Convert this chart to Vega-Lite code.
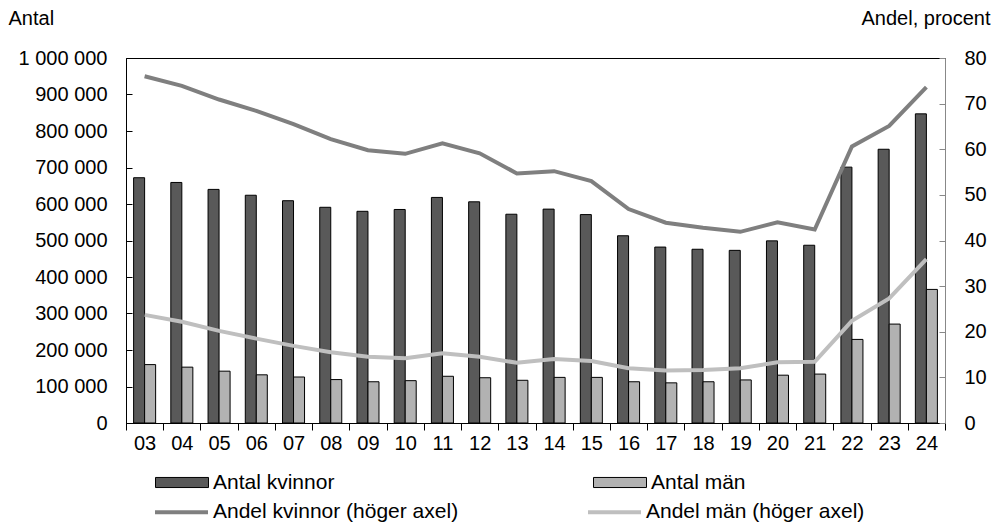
{
  "$schema": "https://vega.github.io/schema/vega-lite/v6.json",
  "width": 819,
  "height": 365,
  "autosize": {"type": "none"},
  "padding": {"left": 126, "top": 58, "right": 50, "bottom": 101},
  "background": "white",
  "config": {
    "font": "Liberation Sans",
    "view": {"stroke": "black", "strokeWidth": 1},
    "locale": {"number": {"decimal": ",", "thousands": " ", "grouping": [3], "currency": ["", " kr"]}},
    "axis": {"grid": false, "labelFont": "Liberation Sans", "labelFontSize": 20, "labelColor": "black", "titleFont": "Liberation Sans", "titleFontSize": 20, "titleFontWeight": "normal", "titleColor": "black"},
    "legend": {"labelFont": "Liberation Sans", "labelFontSize": 21, "labelColor": "black", "padding": 0, "labelLimit": 400}
  },
  "datasets": {
    "antal": [
      {"year": "03", "serie": "Antal kvinnor", "value": 672000},
      {"year": "04", "serie": "Antal kvinnor", "value": 659000},
      {"year": "05", "serie": "Antal kvinnor", "value": 640000},
      {"year": "06", "serie": "Antal kvinnor", "value": 624000},
      {"year": "07", "serie": "Antal kvinnor", "value": 609000},
      {"year": "08", "serie": "Antal kvinnor", "value": 591000},
      {"year": "09", "serie": "Antal kvinnor", "value": 580000},
      {"year": "10", "serie": "Antal kvinnor", "value": 585000},
      {"year": "11", "serie": "Antal kvinnor", "value": 618000},
      {"year": "12", "serie": "Antal kvinnor", "value": 606000},
      {"year": "13", "serie": "Antal kvinnor", "value": 572000},
      {"year": "14", "serie": "Antal kvinnor", "value": 586000},
      {"year": "15", "serie": "Antal kvinnor", "value": 571000},
      {"year": "16", "serie": "Antal kvinnor", "value": 513000},
      {"year": "17", "serie": "Antal kvinnor", "value": 482000},
      {"year": "18", "serie": "Antal kvinnor", "value": 476000},
      {"year": "19", "serie": "Antal kvinnor", "value": 473000},
      {"year": "20", "serie": "Antal kvinnor", "value": 499000},
      {"year": "21", "serie": "Antal kvinnor", "value": 487000},
      {"year": "22", "serie": "Antal kvinnor", "value": 701000},
      {"year": "23", "serie": "Antal kvinnor", "value": 750000},
      {"year": "24", "serie": "Antal kvinnor", "value": 847000},
      {"year": "03", "serie": "Antal män", "value": 160000},
      {"year": "04", "serie": "Antal män", "value": 153000},
      {"year": "05", "serie": "Antal män", "value": 142000},
      {"year": "06", "serie": "Antal män", "value": 132000},
      {"year": "07", "serie": "Antal män", "value": 126000},
      {"year": "08", "serie": "Antal män", "value": 119000},
      {"year": "09", "serie": "Antal män", "value": 113000},
      {"year": "10", "serie": "Antal män", "value": 116000},
      {"year": "11", "serie": "Antal män", "value": 128000},
      {"year": "12", "serie": "Antal män", "value": 124000},
      {"year": "13", "serie": "Antal män", "value": 117000},
      {"year": "14", "serie": "Antal män", "value": 125000},
      {"year": "15", "serie": "Antal män", "value": 125000},
      {"year": "16", "serie": "Antal män", "value": 113000},
      {"year": "17", "serie": "Antal män", "value": 110000},
      {"year": "18", "serie": "Antal män", "value": 113000},
      {"year": "19", "serie": "Antal män", "value": 118000},
      {"year": "20", "serie": "Antal män", "value": 131000},
      {"year": "21", "serie": "Antal män", "value": 134000},
      {"year": "22", "serie": "Antal män", "value": 229000},
      {"year": "23", "serie": "Antal män", "value": 271000},
      {"year": "24", "serie": "Antal män", "value": 366000}
    ],
    "andel": [
      {"year": "03", "serie": "Andel kvinnor (höger axel)", "value": 76.0},
      {"year": "04", "serie": "Andel kvinnor (höger axel)", "value": 73.9},
      {"year": "05", "serie": "Andel kvinnor (höger axel)", "value": 70.9},
      {"year": "06", "serie": "Andel kvinnor (höger axel)", "value": 68.4},
      {"year": "07", "serie": "Andel kvinnor (höger axel)", "value": 65.5},
      {"year": "08", "serie": "Andel kvinnor (höger axel)", "value": 62.2},
      {"year": "09", "serie": "Andel kvinnor (höger axel)", "value": 59.8},
      {"year": "10", "serie": "Andel kvinnor (höger axel)", "value": 59.0},
      {"year": "11", "serie": "Andel kvinnor (höger axel)", "value": 61.3},
      {"year": "12", "serie": "Andel kvinnor (höger axel)", "value": 59.1},
      {"year": "13", "serie": "Andel kvinnor (höger axel)", "value": 54.7},
      {"year": "14", "serie": "Andel kvinnor (höger axel)", "value": 55.2},
      {"year": "15", "serie": "Andel kvinnor (höger axel)", "value": 53.0},
      {"year": "16", "serie": "Andel kvinnor (höger axel)", "value": 46.9},
      {"year": "17", "serie": "Andel kvinnor (höger axel)", "value": 43.9},
      {"year": "18", "serie": "Andel kvinnor (höger axel)", "value": 42.8},
      {"year": "19", "serie": "Andel kvinnor (höger axel)", "value": 41.9},
      {"year": "20", "serie": "Andel kvinnor (höger axel)", "value": 44.0},
      {"year": "21", "serie": "Andel kvinnor (höger axel)", "value": 42.4},
      {"year": "22", "serie": "Andel kvinnor (höger axel)", "value": 60.6},
      {"year": "23", "serie": "Andel kvinnor (höger axel)", "value": 65.1},
      {"year": "24", "serie": "Andel kvinnor (höger axel)", "value": 73.6},
      {"year": "03", "serie": "Andel män (höger axel)", "value": 23.7},
      {"year": "04", "serie": "Andel män (höger axel)", "value": 22.2},
      {"year": "05", "serie": "Andel män (höger axel)", "value": 20.2},
      {"year": "06", "serie": "Andel män (höger axel)", "value": 18.5},
      {"year": "07", "serie": "Andel män (höger axel)", "value": 16.9},
      {"year": "08", "serie": "Andel män (höger axel)", "value": 15.5},
      {"year": "09", "serie": "Andel män (höger axel)", "value": 14.5},
      {"year": "10", "serie": "Andel män (höger axel)", "value": 14.2},
      {"year": "11", "serie": "Andel män (höger axel)", "value": 15.3},
      {"year": "12", "serie": "Andel män (höger axel)", "value": 14.5},
      {"year": "13", "serie": "Andel män (höger axel)", "value": 13.2},
      {"year": "14", "serie": "Andel män (höger axel)", "value": 14.0},
      {"year": "15", "serie": "Andel män (höger axel)", "value": 13.6},
      {"year": "16", "serie": "Andel män (höger axel)", "value": 12.0},
      {"year": "17", "serie": "Andel män (höger axel)", "value": 11.5},
      {"year": "18", "serie": "Andel män (höger axel)", "value": 11.6},
      {"year": "19", "serie": "Andel män (höger axel)", "value": 12.0},
      {"year": "20", "serie": "Andel män (höger axel)", "value": 13.3},
      {"year": "21", "serie": "Andel män (höger axel)", "value": 13.4},
      {"year": "22", "serie": "Andel män (höger axel)", "value": 22.4},
      {"year": "23", "serie": "Andel män (höger axel)", "value": 27.3},
      {"year": "24", "serie": "Andel män (höger axel)", "value": 35.9}
    ]
  },
  "layer": [
    {
      "data": {"name": "antal"},
      "mark": {"type": "bar", "stroke": "black", "strokeWidth": 1},
      "encoding": {
        "x": {
          "field": "year", "type": "ordinal",
          "scale": {"paddingInner": 0, "paddingOuter": 0},
          "axis": {"title": null, "labelAngle": 0, "tickBand": "extent", "tickSize": 7, "labelPadding": 3, "domainColor": "black", "tickColor": "black", "domainWidth": 1}
        },
        "xOffset": {
          "field": "serie",
          "scale": {"domain": ["Antal kvinnor", "Antal män"], "paddingInner": 0, "paddingOuter": 0.69}
        },
        "y": {
          "field": "value", "type": "quantitative",
          "scale": {"domain": [0, 1000000], "nice": false},
          "axis": {"orient": "left", "values": [0, 100000, 200000, 300000, 400000, 500000, 600000, 700000, 800000, 900000, 1000000], "format": ",d", "tickSize": -6, "labelPadding": 25, "domainColor": "black", "tickColor": "black", "title": "Antal", "titleAngle": 0, "titleX": -118, "titleY": -40, "titleAlign": "left", "titleBaseline": "middle"}
        },
        "fill": {
          "field": "serie", "type": "nominal",
          "scale": {"domain": ["Antal kvinnor", "Antal män"], "range": ["#595959", "#b2b2b2"]},
          "legend": {"title": null, "orient": "none", "legendX": 29, "legendY": 397.5, "columns": 2, "columnPadding": 256, "symbolType": "M-1,-0.19H1V0.19H-1Z", "symbolSize": 2809, "symbolStrokeColor": "black", "symbolStrokeWidth": 1, "labelOffset": 4}
        }
      }
    },
    {
      "data": {"name": "andel"},
      "mark": {"type": "line", "strokeWidth": 4},
      "encoding": {
        "x": {"field": "year", "type": "ordinal"},
        "y": {
          "field": "value", "type": "quantitative",
          "scale": {"domain": [0, 80], "nice": false},
          "axis": {"orient": "right", "values": [0, 10, 20, 30, 40, 50, 60, 70, 80], "tickSize": -6, "labelPadding": 25, "domainColor": "#888888", "tickColor": "#888888", "title": "Andel, procent", "titleAngle": 0, "titleX": 45, "titleY": -40, "titleAlign": "right", "titleBaseline": "middle"}
        },
        "stroke": {
          "field": "serie", "type": "nominal",
          "scale": {"domain": ["Andel kvinnor (höger axel)", "Andel män (höger axel)"], "range": ["#7f7f7f", "#bfbfbf"]},
          "legend": {"title": null, "orient": "none", "legendX": 27, "legendY": 425.5, "columns": 2, "columnPadding": 121, "symbolType": "stroke", "symbolSize": 2809, "symbolStrokeWidth": 4, "labelOffset": 3}
        }
      }
    }
  ],
  "resolve": {"scale": {"y": "independent"}}
}
